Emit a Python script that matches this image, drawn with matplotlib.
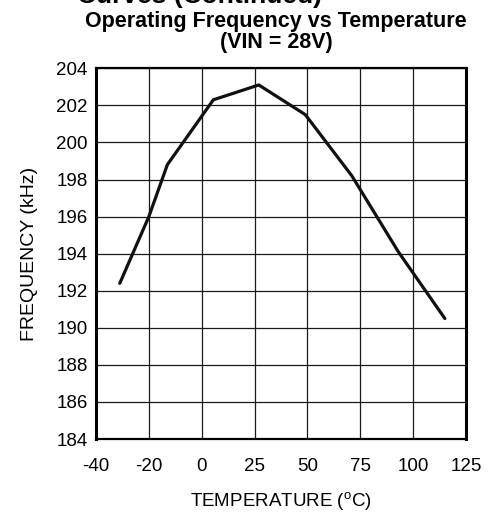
import numpy as np
import matplotlib
matplotlib.use('Agg')
import matplotlib.pyplot as plt

# ---- data ----
x_ticks = [-40, -20, 0, 25, 50, 75, 100, 125]
y_ticks = list(range(184, 205, 2))
temperature = [-31, -20, -13, 5.5, 27, 49, 71, 93, 115]
frequency = [192.4, 196.0, 198.8, 202.3, 203.1, 201.5, 198.2, 194.1, 190.5]

plt.rcParams['font.family'] = ['Liberation Sans', 'DejaVu Sans']
plt.rcParams['mathtext.fontset'] = 'custom'
plt.rcParams['mathtext.rm'] = 'Liberation Sans'

W, H = 488, 514
fig = plt.figure(figsize=(W / 100, H / 100), dpi=100)
ax = fig.add_axes([96 / W, 1 - 439 / H, 370 / W, (439 - 68.3) / H])

idx = np.arange(len(x_ticks), dtype=float)
def fwd(t):
    return np.interp(t, x_ticks, idx)
def inv(u):
    return np.interp(u, idx, x_ticks)
ax.set_xscale('function', functions=(fwd, inv))

ax.plot(temperature, frequency, color='#111111', lw=2.3, solid_joinstyle='miter',
        solid_capstyle='round', zorder=3)

ax.set_xlim(-40, 125)
ax.set_ylim(184, 204)
ax.set_xticks(x_ticks)
ax.set_xticklabels([str(v) for v in x_ticks])
ax.set_yticks(y_ticks)
ax.set_yticklabels([str(v) for v in y_ticks])
ax.xaxis.set_minor_locator(matplotlib.ticker.NullLocator())
ax.grid(True, color='#1a1a1a', lw=0.9)
ax.set_axisbelow(True)
ax.tick_params(axis='both', length=0, labelsize=13.5)
ax.tick_params(axis='x', pad=13.5)
ax.tick_params(axis='y', pad=6)

for side in ['left', 'right']:
    ax.spines[side].set_linewidth(2.2)
for side in ['top', 'bottom']:
    ax.spines[side].set_linewidth(1.6)

ax.set_xlabel('TEMPERATURE ($^{\\rm o}$C)', fontsize=13.5, labelpad=11)
ax.set_ylabel('FREQUENCY (kHz)', fontsize=14, labelpad=13)

fig.text(276 / W, 1 - 11.5 / H, 'Operating Frequency vs Temperature\n(VIN = 28V)',
         ha='center', va='top', fontsize=15.5, fontweight='bold', linespacing=0.98)
fig.text(322 / W, 1 - 3.5 / H, 'Curves (Continued)',
         ha='right', va='baseline', fontsize=19, fontweight='bold')

fig.savefig('out.png', dpi=100)
